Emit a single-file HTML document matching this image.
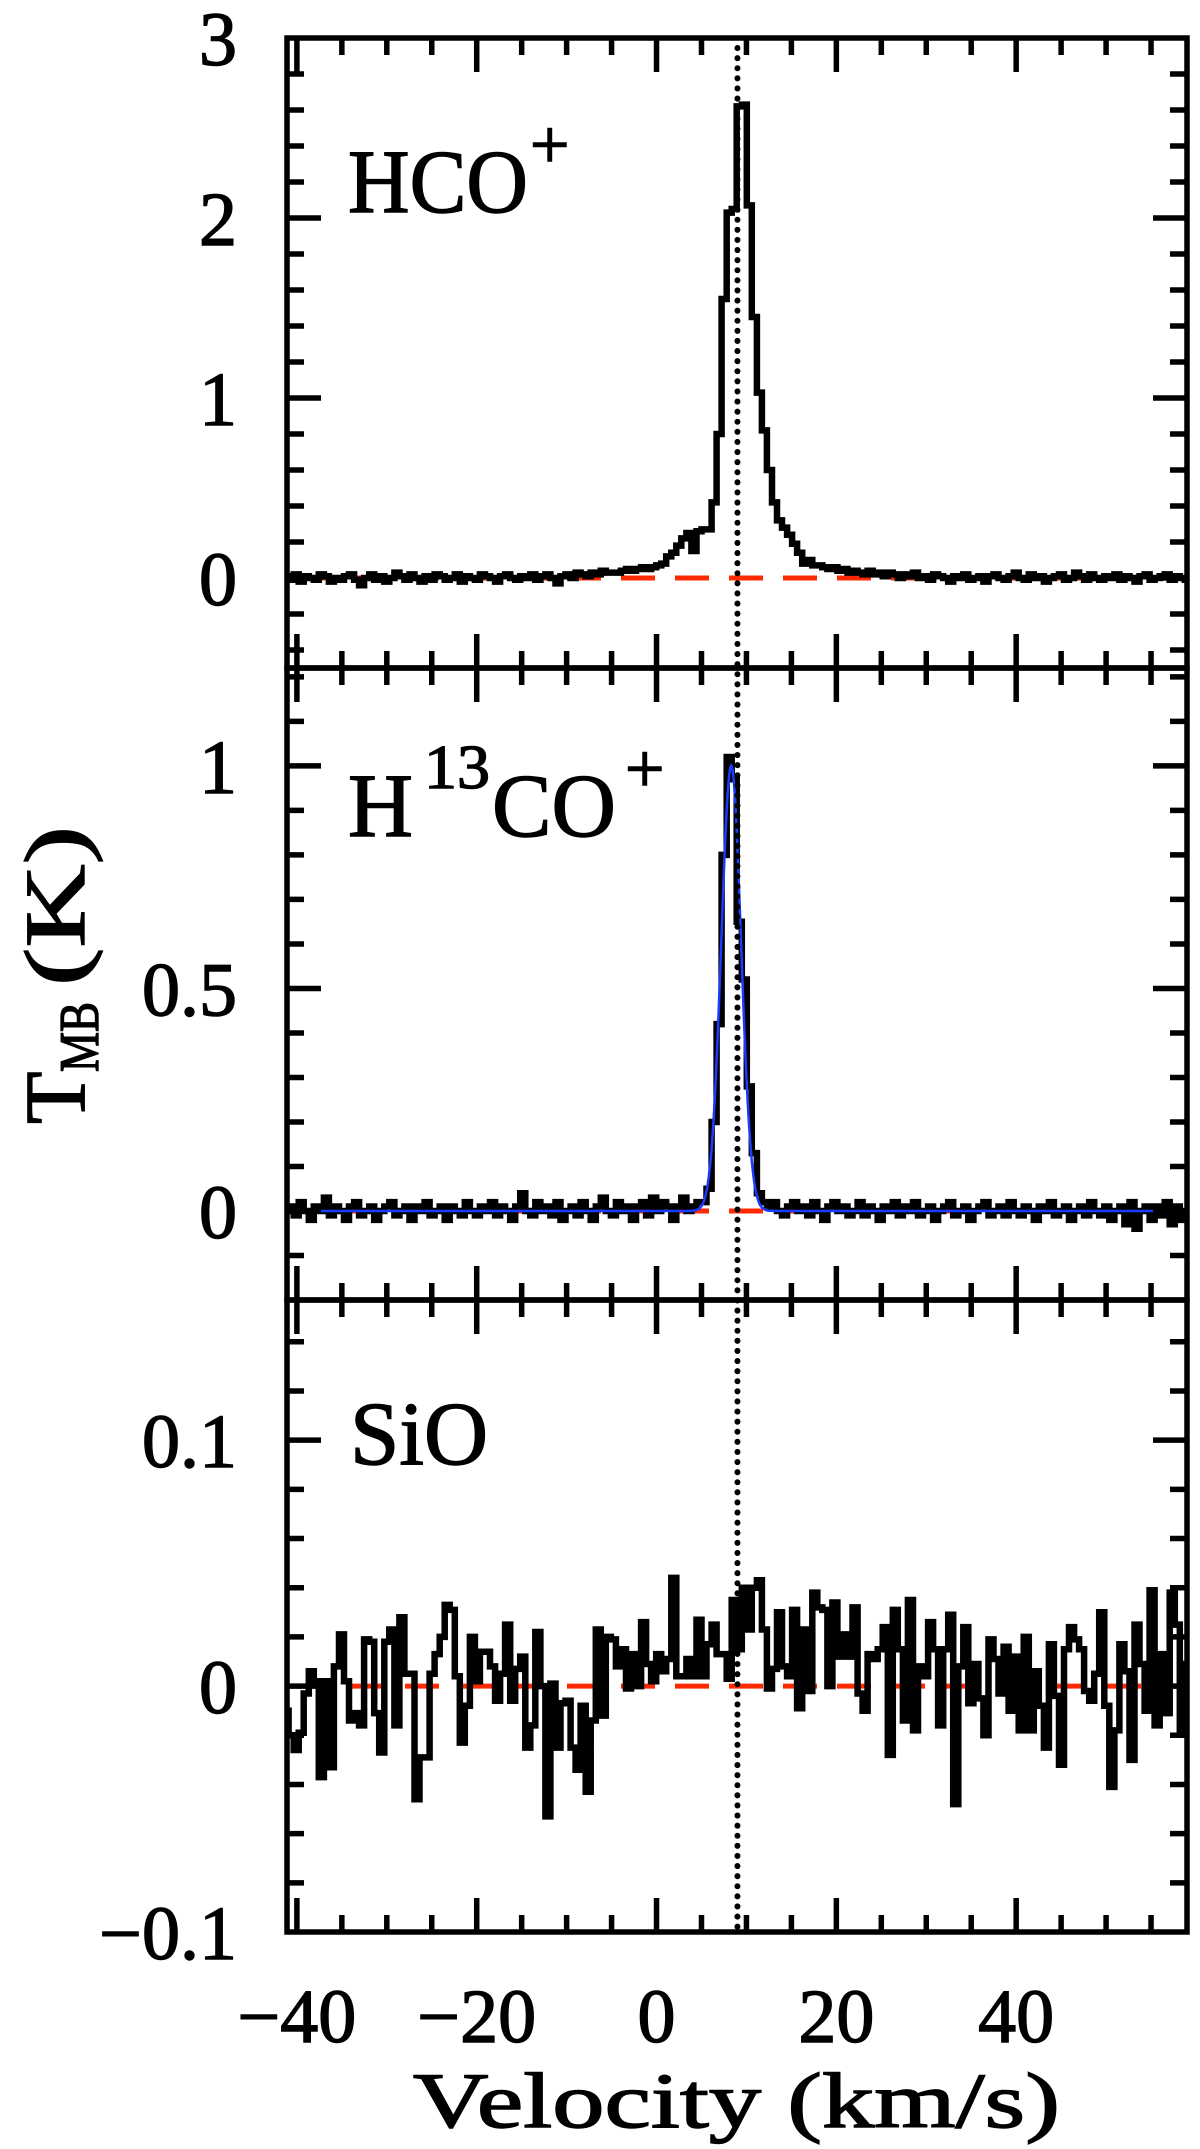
<!DOCTYPE html>
<html><head><meta charset="utf-8"><title>Spectra</title>
<style>
html,body{margin:0;padding:0;background:#fff;}
svg{display:block;}
text{font-family:"Liberation Serif",serif;fill:#000;stroke:#000;stroke-width:1.4px;}
</style></head>
<body>
<svg id="chart" width="1200" height="2149" viewBox="0 0 1200 2149" xmlns="http://www.w3.org/2000/svg">
<g id="marks"></g>
<g id="axes"></g>
<g id="labels">
  <text x="348" y="212" font-size="90" textLength="180" lengthAdjust="spacingAndGlyphs">HCO</text>
  <text x="530" y="168" font-size="70">+</text>
  <text x="348" y="836" font-size="90">H</text>
  <text x="424" y="788" font-size="62" textLength="66" lengthAdjust="spacingAndGlyphs">13</text>
  <text x="492" y="836" font-size="90" textLength="124" lengthAdjust="spacingAndGlyphs">CO</text>
  <text x="625" y="792" font-size="70">+</text>
  <text x="350" y="1464" font-size="90" textLength="138" lengthAdjust="spacingAndGlyphs">SiO</text>
  <text x="413" y="2127" font-size="78" textLength="647" lengthAdjust="spacingAndGlyphs">Velocity (km/s)</text>
  <g transform="translate(84,1124) rotate(-90)">
    <text x="0" y="0" font-size="86">T</text>
    <text x="52" y="14" font-size="56" textLength="70" lengthAdjust="spacingAndGlyphs">MB</text>
    <text x="138" y="0" font-size="86" textLength="160" lengthAdjust="spacingAndGlyphs">(K)</text>
  </g>
</g>
</svg>
<script>
// ---- data ----
const velStart = -41.2;
const velStep = 0.56;
const xTicks = [-40, -20, 0, 20, 40];
const xTickLabels = ["\u221240", "\u221220", "0", "20", "40"];
const refVelocity = [9.0];

const hcoValues = [
0.01,-0.01,0.02,-0.02,0.01,0.00,-0.01,0.02,0.01,-0.02,
0.00,-0.01,0.01,0.02,-0.01,-0.04,0.00,0.02,-0.01,0.01,
-0.02,0.00,0.03,0.01,-0.01,0.02,0.00,-0.02,0.01,-0.01,
0.02,0.01,-0.01,0.00,0.02,-0.02,0.01,0.00,-0.01,0.02,
0.01,0.00,-0.02,0.01,0.02,0.00,-0.01,0.01,0.00,0.02,
-0.01,0.01,0.02,0.00,-0.03,0.01,0.02,0.00,0.03,0.02,
0.01,0.03,0.02,0.04,0.03,0.03,0.03,0.04,0.05,0.04,
0.05,0.06,0.05,0.06,0.07,0.08,0.12,0.14,0.18,0.22,
0.25,0.15,0.26,0.27,0.27,0.42,0.80,1.55,2.03,2.05,
2.62,2.63,2.07,1.45,1.03,0.82,0.60,0.42,0.32,0.28,
0.24,0.19,0.14,0.08,0.10,0.07,0.07,0.06,0.05,0.06,
0.04,0.05,0.03,0.04,0.03,0.02,0.04,0.02,0.03,0.01,
0.03,0.02,0.00,0.02,0.01,0.03,0.00,0.01,-0.01,0.02,
0.01,0.00,-0.02,0.01,0.00,0.02,-0.01,0.00,0.01,-0.02,
0.01,0.02,0.00,-0.01,0.01,0.03,0.00,-0.01,0.02,0.00,
0.01,-0.02,0.00,0.01,0.02,-0.01,0.00,0.03,0.01,-0.01,
0.02,0.00,-0.01,0.01,0.00,0.02,-0.01,0.01,0.00,-0.02,
0.01,0.02,-0.01,0.00,0.01,0.02,-0.01,0.01,0.00,-0.01
];
const h13coValues = [
0.00,0.01,-0.01,0.02,0.00,-0.02,0.01,0.00,0.03,-0.01,
0.01,0.00,-0.02,0.01,0.02,-0.01,0.00,0.01,-0.02,0.00,
0.01,0.02,-0.01,0.00,0.01,-0.02,0.01,0.00,0.02,-0.01,
0.00,0.01,-0.02,0.01,0.00,-0.01,0.02,0.00,-0.01,0.01,
0.00,0.02,-0.01,0.01,0.00,-0.02,0.01,0.04,0.00,-0.01,
0.02,0.00,0.01,-0.01,0.02,-0.02,0.00,0.01,-0.01,0.02,
0.00,-0.02,0.01,0.03,0.00,-0.01,0.02,0.00,0.01,-0.02,
0.01,0.02,-0.01,0.03,0.00,0.02,0.01,-0.02,0.01,0.03,
0.00,0.01,0.02,0.02,0.05,0.20,0.42,0.80,1.02,0.97,
0.65,0.52,0.28,0.13,0.04,0.02,0.01,0.02,0.00,-0.01,
0.01,0.02,0.00,0.01,-0.01,0.02,0.00,-0.02,0.01,0.02,
0.00,0.01,-0.01,0.00,0.02,-0.01,0.01,0.00,-0.02,0.01,
0.00,0.02,-0.01,0.01,0.00,0.02,-0.01,0.00,0.01,-0.02,
0.00,0.01,0.02,-0.01,0.00,0.01,-0.02,0.00,0.01,0.02,
-0.01,0.00,0.01,-0.01,0.02,0.00,-0.01,0.01,0.00,-0.02,
0.01,0.00,0.02,-0.01,0.00,0.01,-0.02,0.00,0.01,-0.01,
0.02,0.00,-0.01,0.01,-0.02,0.00,0.01,-0.03,0.02,-0.04,
0.00,0.01,-0.02,0.01,-0.01,0.02,-0.03,0.01,-0.02,0.00
];
const h13coFitAmp = [1.0];
const h13coFitCenter = [8.3];
const h13coFitSigma = [1.1];
const sioValues = [
-0.010,-0.020,-0.026,-0.019,-0.003,0.006,0.002,-0.037,0.002,-0.033,
0.008,0.021,0.002,-0.014,-0.011,-0.016,0.019,0.018,-0.011,-0.027,
0.018,0.023,-0.016,0.028,0.005,0.005,-0.046,-0.029,-0.029,0.005,
0.013,0.020,0.033,0.031,0.004,-0.023,-0.008,0.020,0.002,0.014,
0.014,0.008,-0.006,0.005,0.025,-0.006,0.007,0.012,-0.025,-0.016,
0.022,0.000,-0.053,0.001,-0.025,-0.007,-0.006,-0.025,-0.034,-0.008,
-0.043,-0.014,0.023,-0.012,0.020,0.019,0.008,0.015,-0.001,0.013,
0.000,0.026,0.009,0.002,0.013,0.006,0.011,0.044,0.004,0.004,
0.011,0.004,0.027,0.004,0.017,0.025,0.013,0.013,0.003,0.035,
0.015,0.040,0.023,0.040,0.043,0.023,-0.001,0.007,0.030,0.008,
0.004,0.031,-0.009,0.023,-0.002,0.038,0.032,0.031,0.000,0.034,
0.012,0.021,0.012,0.032,-0.003,-0.010,0.013,0.011,0.015,0.024,
-0.028,0.031,0.015,-0.014,0.035,-0.018,0.008,0.004,0.026,0.015,
-0.016,0.015,0.029,-0.048,0.008,0.024,-0.007,0.009,-0.005,-0.020,
0.019,0.011,-0.003,0.016,-0.010,0.012,-0.018,0.020,-0.018,0.006,
-0.008,-0.025,0.017,-0.004,-0.032,0.015,0.024,0.019,0.015,-0.002,
-0.006,0.005,0.030,-0.008,-0.041,-0.018,0.017,0.006,-0.030,0.025,
0.009,-0.010,0.039,-0.016,0.013,-0.011,0.038,0.025,-0.018,0.009,
0.029,0.020,0.008,0.008,-0.010,0.000,-0.019
];

const panelNames = ["hco", "h13co", "sio"];
const yMin = [-0.5, -0.2, -0.1];
const yMax = [3.0, 1.22, 0.157];
const yMajor = [1, 0.5, 0.1];
const yMinor = [0.2, 0.1, 0.02];
const yTickLabels = [["0","1","2","3"], ["0","0.5","1"], ["\u22120.1","0","0.1"]];
const yTickValues = [[0,1,2,3], [0,0.5,1], [-0.1,0,0.1]];

// ---- layout ----
const L = 287, R = 1187;
const panelTop = [38, 668, 1300];
const panelBot = [668, 1300, 1932];
const vMin = -41.1, vMax = 59.0;
const NS = "http://www.w3.org/2000/svg";
const marks = document.getElementById('marks');
const axes = document.getElementById('axes');

function xScale(v){ return L + (v - vMin) / (vMax - vMin) * (R - L); }
function yScale(p, val){ return panelBot[p] - (val - yMin[p]) / (yMax[p] - yMin[p]) * (panelBot[p] - panelTop[p]); }
function mk(tag, attrs, parent){
  const e = document.createElementNS(NS, tag);
  for (const k in attrs) e.setAttribute(k, attrs[k]);
  parent.appendChild(e);
  return e;
}

const seriesList = [hcoValues, h13coValues, sioValues];

const defs = mk('defs', {}, marks);
for (let p = 0; p < 3; p++) {
  const cp = mk('clipPath', {id: 'clip' + p}, defs);
  mk('rect', {x: L, y: panelTop[p], width: R - L, height: panelBot[p] - panelTop[p]}, cp);
}

for (let p = 0; p < 3; p++) {
  const g = mk('g', {'clip-path': 'url(#clip' + p + ')'}, marks);
  const zl = mk('line', {x1: L, x2: R, y1: yScale(p, 0), y2: yScale(p, 0), stroke: '#ff2a00', 'stroke-width': 5, 'stroke-dasharray': '34 20', 'stroke-dashoffset': '-10'}, g);
  
  
  const vals = seriesList[p];
  let d = '';
  for (let i = 0; i < vals.length; i++) {
    const v0 = velStart + velStep * (i - 0.5);
    const v1 = velStart + velStep * (i + 0.5);
    const y = yScale(p, vals[i]);
    d += (i === 0 ? 'M' : 'L') + xScale(v0).toFixed(1) + ',' + y.toFixed(1) + 'L' + xScale(v1).toFixed(1) + ',' + y.toFixed(1);
  }
  const sp = mk('path', {d: d, fill: 'none', stroke: '#000', 'stroke-width': 6.5, 'stroke-linejoin': 'miter'}, g);
  
  
  if (p === 1) {
    let fd = '';
    for (let v = vMin; v <= vMax; v += 0.1) {
      const val = h13coFitAmp[0] * Math.exp(-0.5 * Math.pow((v - h13coFitCenter[0]) / h13coFitSigma[0], 2));
      fd += (fd ? 'L' : 'M') + xScale(v).toFixed(1) + ',' + yScale(p, val).toFixed(1);
    }
    const fit = mk('path', {d: fd, fill: 'none', stroke: '#1a3cff', 'stroke-width': 2.5}, g);
    
    
  }
}

const ref = mk('line', {x1: xScale(refVelocity[0]), x2: xScale(refVelocity[0]), y1: panelTop[0] + 10, y2: panelBot[2], stroke: '#000', 'stroke-width': 6, 'stroke-dasharray': '0.1 10', 'stroke-linecap': 'round'}, marks);



const MAJ = 34, MIN = 17;
for (let p = 0; p < 3; p++) {
  const fr = mk('rect', {x: L, y: panelTop[p], width: R - L, height: panelBot[p] - panelTop[p], fill: 'none', stroke: '#000', 'stroke-width': 5.5}, axes);
  
  
  let td = '';
  for (let v = -40; v <= vMax; v += 5) {
    const x = xScale(v);
    const len = (v % 20 === 0) ? MAJ : MIN;
    td += 'M' + x + ',' + panelBot[p] + 'v' + (-len);
    td += 'M' + x + ',' + panelTop[p] + 'v' + len;
  }
  const startMinor = Math.ceil(yMin[p] / yMinor[p] - 1e-6);
  for (let k = startMinor; k * yMinor[p] <= yMax[p] + 1e-9; k++) {
    const val = k * yMinor[p];
    const y = yScale(p, val);
    if (y < panelTop[p] + 2 || y > panelBot[p] - 2) continue;
    const isMaj = Math.abs(val / yMajor[p] - Math.round(val / yMajor[p])) < 1e-6;
    const len = isMaj ? MAJ : MIN;
    td += 'M' + L + ',' + y + 'h' + len;
    td += 'M' + R + ',' + y + 'h' + (-len);
  }
  const tk = mk('path', {d: td, stroke: '#000', 'stroke-width': 5.5, fill: 'none'}, axes);
  
  
  for (let j = 0; j < yTickValues[p].length; j++) {
    const t = mk('text', {x: 237, y: yScale(p, yTickValues[p][j]) + 27, 'font-size': 76, 'text-anchor': 'end'}, axes);
    t.textContent = yTickLabels[p][j];
    
    
  }
}
for (let j = 0; j < xTicks.length; j++) {
  const t = mk('text', {x: xScale(xTicks[j]), y: 2042, 'font-size': 76, 'text-anchor': 'middle'}, axes);
  t.textContent = xTickLabels[j];
  
  
}
</script>
</body></html>
